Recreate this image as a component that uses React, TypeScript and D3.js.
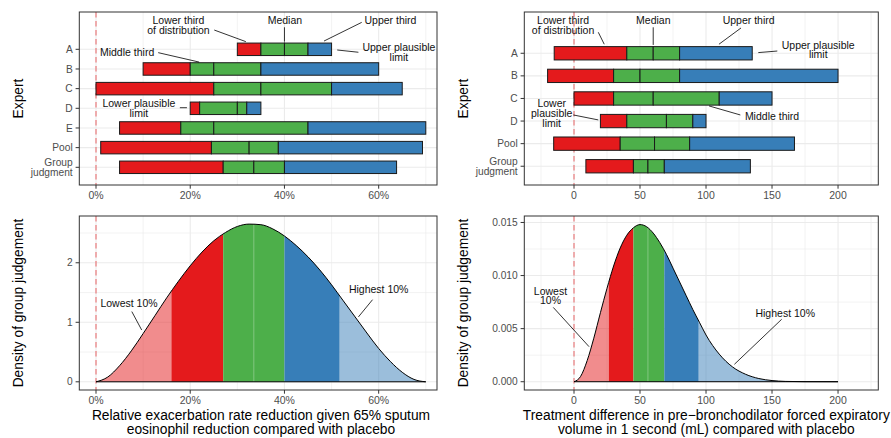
import React from 'react';
import * as d3 from 'd3';

const FONT = '"Liberation Sans", Arial, Helvetica, sans-serif';
const RED = '#E41A1C';
const GREEN = '#4DAF4A';
const BLUE = '#377EB8';

// --- exacerbation rate reduction (%), per expert ---
const rateExperts = ['A', 'B', 'C', 'D', 'E', 'Pool', 'Group judgment'];
const rateLow = [30, 10, 0, 20, 5, 1, 5];
const rateLowerThird = [35, 20, 25, 22, 18, 24.5, 27];
const rateMedian = [40, 25, 35, 30, 25, 32.5, 33.5];
const rateUpperThird = [45, 35, 50, 32, 45, 38.7, 40];
const rateHigh = [50, 60, 65, 35, 70, 69.3, 63.8];

// --- FEV1 treatment difference (mL), per expert ---
const fevExperts = ['A', 'B', 'C', 'D', 'Pool', 'Group judgment'];
const fevLow = [-15, -20, 0, 20, -15.4, 9];
const fevLowerThird = [40, 30, 30, 40, 35, 45];
const fevMedian = [60, 50, 60, 70, 61, 56];
const fevUpperThird = [80, 80, 110, 90, 87.6, 68.4];
const fevHigh = [135, 200, 150, 100, 167, 133.6];

// --- group judgement densities ---
const rateX = [0, 2.5, 5, 7.5, 10, 12.5, 15, 17.5, 20, 22.5, 25, 27.5, 30, 32.5, 35, 37.5, 40, 42.5, 45, 47.5, 50, 52.5, 55, 57.5, 60, 62.5, 65, 67.5, 70];
const rateDensity = [0, 0.08, 0.27, 0.52, 0.81, 1.11, 1.41, 1.69, 1.95, 2.18, 2.37, 2.51, 2.61, 2.65, 2.64, 2.57, 2.45, 2.29, 2.1, 1.88, 1.63, 1.36, 1.09, 0.82, 0.56, 0.34, 0.16, 0.04, 0];
// 10%, lower third, median, upper third, 90%
const rateCuts = [16, 27, 33.5, 40, 51.7];

const fevX = [0, 5, 10, 15, 20, 25, 30, 35, 40, 45, 50, 55, 60, 65, 70, 75, 80, 85, 90, 95, 100, 110, 120, 130, 140, 150, 160, 175, 200];
const fevDensity = [0, 0.0005, 0.002, 0.0041, 0.0065, 0.0088, 0.0109, 0.0126, 0.0138, 0.0145, 0.0148, 0.0146, 0.014, 0.0131, 0.012, 0.0107, 0.0094, 0.0081, 0.0068, 0.0056, 0.0044, 0.0026, 0.0014, 0.0007, 0.0003, 0.00011, 0.00003, 0.000004, 0];
const fevCuts = [26.3, 45, 56, 68.4, 94.4];

// --- axis ticks ---
const rateTicks = [0, 20, 40, 60];
const rateMinor = [10, 30, 50, 70];
const rateTickLabels = ['0%', '20%', '40%', '60%'];
const fevTicks = [0, 50, 100, 150, 200];
const fevMinor = [-25, 25, 75, 125, 175, 225];
const fevTickLabels = ['0', '50', '100', '150', '200'];
const rateDensTicks = [0, 1, 2];
const rateDensMinor = [0.5, 1.5, 2.5];
const rateDensLabels = ['0', '1', '2'];
const fevDensTicks = [0, 0.005, 0.01, 0.015];
const fevDensMinor = [0.0025, 0.0075, 0.0125];
const fevDensLabels = ['0.000', '0.005', '0.010', '0.015'];

type Note = { lines: string[]; x: number; y: number; from: [number, number]; to: [number, number] };

const LEFT_X = { x0: 79.3, x1: 437 };
const RIGHT_X = { x0: 524.3, x1: 878.3 };
const TOP_Y = { y0: 12, y1: 185 };
const BOT_Y = { y0: 216, y1: 390 };

// one <text> per label, extra lines as tspans
function MultiLine({ x, y, lines, gap, anchor, size, fill }: any) {
  const first = y - ((lines.length - 1) / 2) * gap;
  return (
    <text x={x} y={first} dy="0.35em" textAnchor={anchor} fontSize={size} fill={fill}>
      {lines.map((t: string, j: number) => (
        <tspan key={j} x={x} dy={j === 0 ? '0.35em' : gap}>{t}</tspan>
      ))}
    </text>
  );
}

function Panel({ id, box, x, y, xMajor, xMinor, xLabels, yMajor, yMinor, yLabels, notes, children }: any) {
  const w = box.x1 - box.x0, h = box.y1 - box.y0;
  return (
    <g>
      <defs>
        <clipPath id={id}>
          <rect x={box.x0} y={box.y0} width={w} height={h} />
        </clipPath>
      </defs>
      <rect x={box.x0} y={box.y0} width={w} height={h} fill="white" />
      <g clipPath={`url(#${id})`}>
        {xMinor.map((v: number) => (
          <line key={'xm' + v} x1={x(v)} x2={x(v)} y1={box.y0} y2={box.y1} stroke="#EBEBEB" strokeWidth={0.6} />
        ))}
        {yMinor.map((v: number) => (
          <line key={'ym' + v} x1={box.x0} x2={box.x1} y1={y(v)} y2={y(v)} stroke="#EBEBEB" strokeWidth={0.6} />
        ))}
        {xMajor.map((v: number) => (
          <line key={'xM' + v} x1={x(v)} x2={x(v)} y1={box.y0} y2={box.y1} stroke="#EBEBEB" strokeWidth={1.1} />
        ))}
        {yMajor.map((v: number) => (
          <line key={'yM' + v} x1={box.x0} x2={box.x1} y1={y(v)} y2={y(v)} stroke="#EBEBEB" strokeWidth={1.1} />
        ))}
        <line x1={x(0)} x2={x(0)} y1={box.y0} y2={box.y1} stroke={RED} strokeOpacity={0.6} strokeWidth={1.1} strokeDasharray="5.5,3.5" />
        {children}
      </g>
      {notes.map((n: Note, i: number) => (
        <g key={'n' + i}>
          <line x1={x(n.from[0])} y1={y(n.from[1])} x2={x(n.to[0])} y2={y(n.to[1])} stroke="black" strokeWidth={0.8} />
          <MultiLine x={x(n.x)} y={y(n.y)} lines={n.lines} gap={9.8} anchor="middle" size={10.5} fill="#111" />
        </g>
      ))}
      <rect x={box.x0} y={box.y0} width={w} height={h} fill="none" stroke="#333333" strokeWidth={1} />
      {xMajor.map((v: number, i: number) => (
        <g key={'xt' + v}>
          <line x1={x(v)} x2={x(v)} y1={box.y1} y2={box.y1 + 3.7} stroke="#333333" strokeWidth={1} />
          <text x={x(v)} y={box.y1 + 14.3} textAnchor="middle" fontSize={10.5} fill="#4D4D4D">{xLabels[i]}</text>
        </g>
      ))}
      {yMajor.map((v: number, i: number) => (
        <g key={'yt' + v}>
          <line x1={box.x0 - 3.7} x2={box.x0} y1={y(v)} y2={y(v)} stroke="#333333" strokeWidth={1} />
          <MultiLine x={box.x0 - 6.6} y={y(v)} lines={yLabels[i].split(' ')} gap={9.4} anchor="end" size={10.2} fill="#4D4D4D" />
        </g>
      ))}
    </g>
  );
}

function BarPanel({ id, box, domain, yDomain, experts, low, lt, med, ut, high, xMajor, xMinor, xLabels, barH, notes }: any) {
  const x = d3.scaleLinear().domain(domain).range([box.x0, box.x1]);
  const y = d3.scaleLinear().domain(yDomain).range([box.y0, box.y1]);
  const idx = experts.map((_: string, i: number) => i);
  const bh = Math.abs(y(barH) - y(0));
  return (
    <Panel id={id} box={box} x={x} y={y} xMajor={xMajor} xMinor={xMinor} xLabels={xLabels}
      yMajor={idx} yMinor={[]} yLabels={experts} notes={notes}>
      {idx.map((i: number) => {
        const segs: [number, number, string][] = [
          [low[i], lt[i], RED], [lt[i], med[i], GREEN], [med[i], ut[i], GREEN], [ut[i], high[i], BLUE],
        ];
        return segs.map(([a, b, c], k) => (
          <rect key={i + '-' + k} x={x(a)} y={y(i) - bh / 2} width={x(b) - x(a)} height={bh}
            fill={c} stroke="#1a1a1a" strokeWidth={1} />
        ));
      })}
    </Panel>
  );
}

function DensityPanel({ id, box, domain, yDomain, xs, ds, cuts, xMajor, xMinor, xLabels, yMajor, yMinor, yLabels, notes }: any) {
  const x = d3.scaleLinear().domain(domain).range([box.x0, box.x1]);
  const y = d3.scaleLinear().domain(yDomain).range([box.y1, box.y0]);
  const pts: [number, number][] = xs.map((v: number, i: number) => [v, ds[i]]);
  const area = d3.area<[number, number]>().x(d => x(d[0])).y0(y(0)).y1(d => y(d[1])).curve(d3.curveMonotoneX);
  const line = d3.line<[number, number]>().x(d => x(d[0])).y(d => y(d[1])).curve(d3.curveMonotoneX);
  const lo = xs[0], hi = xs[xs.length - 1];
  const sections: [number, number, string, number][] = [
    [lo, cuts[0], RED, 0.5], [cuts[0], cuts[1], RED, 1], [cuts[1], cuts[3], GREEN, 1],
    [cuts[3], cuts[4], BLUE, 1], [cuts[4], hi, BLUE, 0.5],
  ];
  const areaD = area(pts) || '';
  return (
    <Panel id={id} box={box} x={x} y={y} xMajor={xMajor} xMinor={xMinor} xLabels={xLabels}
      yMajor={yMajor} yMinor={yMinor} yLabels={yLabels} notes={notes}>
      <defs>
        {sections.map(([a, b], k) => (
          <clipPath key={k} id={`${id}-s${k}`}>
            <rect x={x(a)} y={box.y0} width={x(b) - x(a)} height={box.y1 - box.y0} />
          </clipPath>
        ))}
        <clipPath id={`${id}-area`}>
          <path d={areaD} />
        </clipPath>
      </defs>
      {sections.map(([, , c, o], k) => (
        <path key={k} d={areaD} fill={c} fillOpacity={o} clipPath={`url(#${id}-s${k})`} />
      ))}
      <line x1={x(cuts[2])} x2={x(cuts[2])} y1={box.y0} y2={box.y1} stroke="white" strokeOpacity={0.3}
        strokeWidth={1} clipPath={`url(#${id}-area)`} />
      <path d={line(pts) || ''} fill="none" stroke="black" strokeWidth={1} />
      <line x1={x(lo)} x2={x(hi)} y1={y(0)} y2={y(0)} stroke="black" strokeWidth={1} />
    </Panel>
  );
}

const rateNotes: Note[] = [
  { lines: ['Lower third', 'of distribution'], x: 17.5, y: -1.2, from: [25.1, -0.98], to: [31.8, -0.39] },
  { lines: ['Median'], x: 40.1, y: -1.46, from: [40, -1.12], to: [40, -0.39] },
  { lines: ['Upper third'], x: 62.5, y: -1.46, from: [56.4, -1.37], to: [48.4, -0.42] },
  { lines: ['Upper plausible', 'limit'], x: 64.3, y: 0.17, from: [51.2, 0.035], to: [55.7, 0.15] },
  { lines: ['Middle third'], x: 6.6, y: 0.15, from: [13.2, 0.17], to: [21.9, 0.65] },
  { lines: ['Lower plausible', 'limit'], x: 9.1, y: 3.02, from: [17.8, 2.97], to: [19.3, 2.97] },
];
const fevNotes: Note[] = [
  { lines: ['Lower third', 'of distribution'], x: -8.3, y: -1.23, from: [18.4, -0.93], to: [22.9, -0.4] },
  { lines: ['Median'], x: 60.1, y: -1.45, from: [60, -1.15], to: [60, -0.37] },
  { lines: ['Upper third'], x: 132.3, y: -1.45, from: [126.5, -1.12], to: [109.8, -0.4] },
  { lines: ['Upper plausible', 'limit'], x: 185, y: -0.15, from: [139.6, -0.03], to: [154, -0.1] },
  { lines: ['Middle third'], x: 150, y: 2.79, from: [126, 2.73], to: [102.3, 2.33] },
  { lines: ['Lower', 'plausible', 'limit'], x: -16.9, y: 2.67, from: [-0.5, 2.73], to: [18.4, 2.95] },
];
const rateDensNotes: Note[] = [
  { lines: ['Lowest 10%'], x: 7.0, y: 1.32, from: [7.6, 1.18], to: [9.7, 0.87] },
  { lines: ['Highest 10%'], x: 60.0, y: 1.55, from: [58.7, 1.38], to: [55.7, 1.09] },
];
const fevDensNotes: Note[] = [
  { lines: ['Lowest', '10%'], x: -17.8, y: 0.0081, from: [-15.7, 0.007], to: [11.4, 0.0033] },
  { lines: ['Highest 10%'], x: 160, y: 0.00647, from: [157.3, 0.00588], to: [121.5, 0.00164] },
];

function YTitle({ x, y, text }: { x: number; y: number; text: string }) {
  return (
    <text transform={`translate(${x},${y}) rotate(-90)`} textAnchor="middle" dy="0.35em" fontSize={13.8} fill="black">{text}</text>
  );
}

export default function App() {
  return (
    <svg width={891} height={438} style={{ position: 'absolute', left: 0, top: 0, background: 'white' }} fontFamily={FONT}>
      <rect width={891} height={438} fill="white" />
      <BarPanel id="tl" box={{ ...LEFT_X, ...TOP_Y }} domain={[-3.545, 72.38]} yDomain={[-1.897, 6.9]}
        experts={rateExperts} low={rateLow} lt={rateLowerThird} med={rateMedian} ut={rateUpperThird} high={rateHigh}
        xMajor={rateTicks} xMinor={rateMinor} xLabels={rateTickLabels} barH={0.635} notes={rateNotes} />
      <BarPanel id="tr" box={{ ...RIGHT_X, ...TOP_Y }} domain={[-37.65, 230.5]} yDomain={[-1.827, 5.83]}
        experts={fevExperts} low={fevLow} lt={fevLowerThird} med={fevMedian} ut={fevUpperThird} high={fevHigh}
        xMajor={fevTicks} xMinor={fevMinor} xLabels={fevTickLabels} barH={0.59} notes={fevNotes} />
      <DensityPanel id="bl" box={{ ...LEFT_X, ...BOT_Y }} domain={[-3.545, 72.38]} yDomain={[-0.1378, 2.786]}
        xs={rateX} ds={rateDensity} cuts={rateCuts} xMajor={rateTicks} xMinor={rateMinor} xLabels={rateTickLabels}
        yMajor={rateDensTicks} yMinor={rateDensMinor} yLabels={rateDensLabels} notes={rateDensNotes} />
      <DensityPanel id="br" box={{ ...RIGHT_X, ...BOT_Y }} domain={[-37.65, 230.5]} yDomain={[-0.00078, 0.01561]}
        xs={fevX} ds={fevDensity} cuts={fevCuts} xMajor={fevTicks} xMinor={fevMinor} xLabels={fevTickLabels}
        yMajor={fevDensTicks} yMinor={fevDensMinor} yLabels={fevDensLabels} notes={fevDensNotes} />

      <YTitle x={18.3} y={98.5} text="Expert" />
      <YTitle x={463.3} y={98.5} text="Expert" />
      <YTitle x={18.3} y={303} text="Density of group judgement" />
      <YTitle x={463.3} y={303} text="Density of group judgement" />

      <text x={261} y={420} textAnchor="middle" fontSize={13.8} fill="black">Relative exacerbation rate reduction given 65% sputum</text>
      <text x={261} y={433.7} textAnchor="middle" fontSize={13.8} fill="black">eosinophil reduction compared with placebo</text>
      <text x={706.3} y={420} textAnchor="middle" fontSize={13.8} fill="black">Treatment difference in pre−bronchodilator forced expiratory</text>
      <text x={706.3} y={433.7} textAnchor="middle" fontSize={13.8} fill="black">volume in 1 second (mL) compared with placebo</text>
    </svg>
  );
}
